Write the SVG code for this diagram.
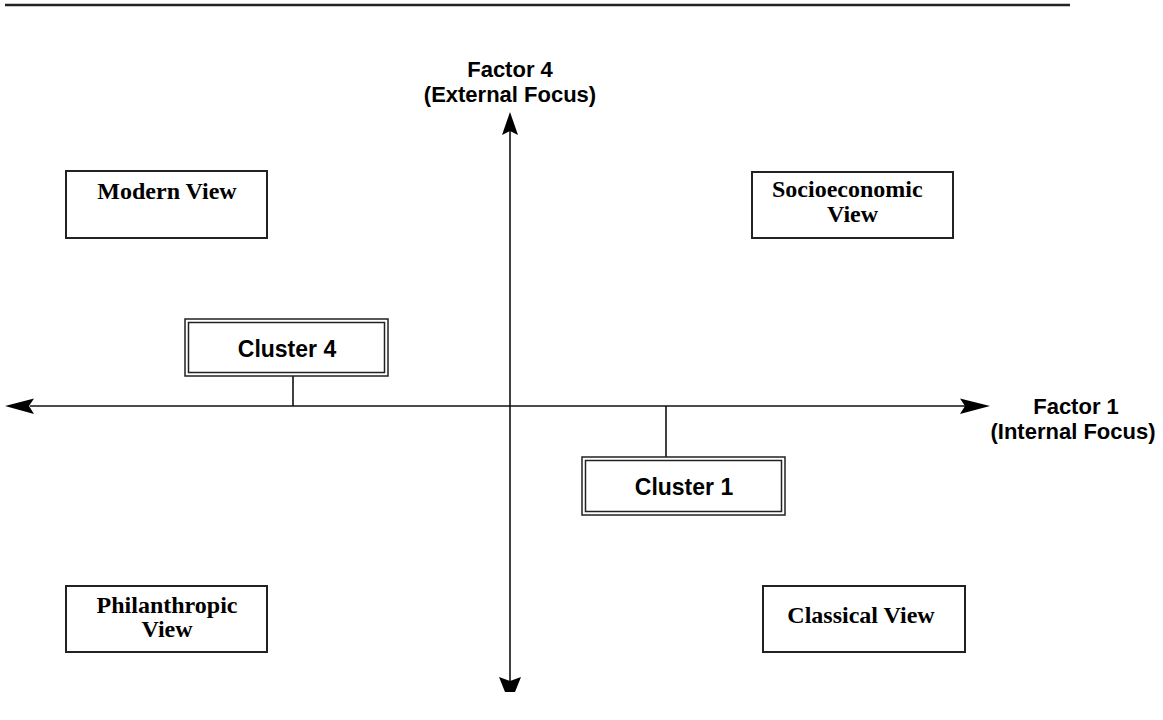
<svg xmlns="http://www.w3.org/2000/svg" width="1163" height="720" viewBox="0 0 1163 720">
<style>
.view{fill:#fff;stroke:#222;stroke-width:2}
.vt{font-family:"Liberation Serif","Times New Roman",serif;font-weight:bold;font-size:24px;fill:#000}
.at{font-family:"Liberation Sans",Arial,sans-serif;font-weight:bold;font-size:22px;fill:#000}
.ct{font-family:"Liberation Sans",Arial,sans-serif;font-weight:bold;font-size:23px;fill:#000;text-anchor:middle}
.cb{fill:#fff;stroke:#222;stroke-width:1.5}
.ax{stroke:#111;stroke-width:1.6;fill:none}
.head{fill:#000}
</style>
<rect width="1163" height="720" fill="#fff"/>
<line x1="5" y1="5" x2="1070" y2="5" stroke="#222" stroke-width="2.5"/>
<g id="connectors">
<line class="ax" x1="30" y1="406" x2="965" y2="406"/>
<line class="ax" x1="510" y1="128" x2="510" y2="682" stroke="#333" stroke-width="2"/>
<path class="head" d="M5,406 L34,398.5 L29,406 L34,414 Z"/>
<path class="head" d="M990,406 L960,398.5 L965,406 L960,414 Z"/>
<path class="head" d="M510,112 L518,135 L510,131 L502,135 Z"/>
<path class="head" d="M499,677 L510,681 L521,677 L515,692 L505,692 Z"/>
<line class="ax" x1="293" y1="376" x2="293" y2="406"/>
<line class="ax" x1="666" y1="406" x2="666" y2="457"/>
</g>
<g id="factor4">
<text class="at" x="510" y="77" text-anchor="middle">Factor 4</text>
<text class="at" x="510" y="102" text-anchor="middle">(External Focus)</text>
</g>
<g id="factor1">
<text class="at" x="1076" y="414" text-anchor="middle">Factor 1</text>
<text class="at" x="1073" y="439" text-anchor="middle">(Internal Focus)</text>
</g>
<g id="modern">
<rect class="view" x="66" y="171" width="201" height="67"/>
<text class="vt" x="167" y="199" text-anchor="middle">Modern View</text>
</g>
<g id="socio">
<rect class="view" x="752" y="172" width="201" height="66"/>
<text class="vt" x="772" y="197">Socioeconomic</text>
<text class="vt" x="827" y="222">View</text>
</g>
<g id="philan">
<rect class="view" x="66" y="586" width="201" height="66"/>
<text class="vt" x="167" y="613" text-anchor="middle">Philanthropic</text>
<text class="vt" x="167" y="637" text-anchor="middle">View</text>
</g>
<g id="classical">
<rect class="view" x="763" y="586" width="202" height="66"/>
<text class="vt" x="861" y="623" text-anchor="middle">Classical View</text>
</g>
<g id="cluster4">
<rect class="cb" x="185" y="319" width="203" height="57"/>
<rect class="cb" x="188.5" y="322.5" width="196" height="50"/>
<text class="ct" x="287" y="357">Cluster 4</text>
</g>
<g id="cluster1">
<rect class="cb" x="582" y="457" width="203" height="58"/>
<rect class="cb" x="585.5" y="460.5" width="196" height="51"/>
<text class="ct" x="684" y="495">Cluster 1</text>
</g>
</svg>
